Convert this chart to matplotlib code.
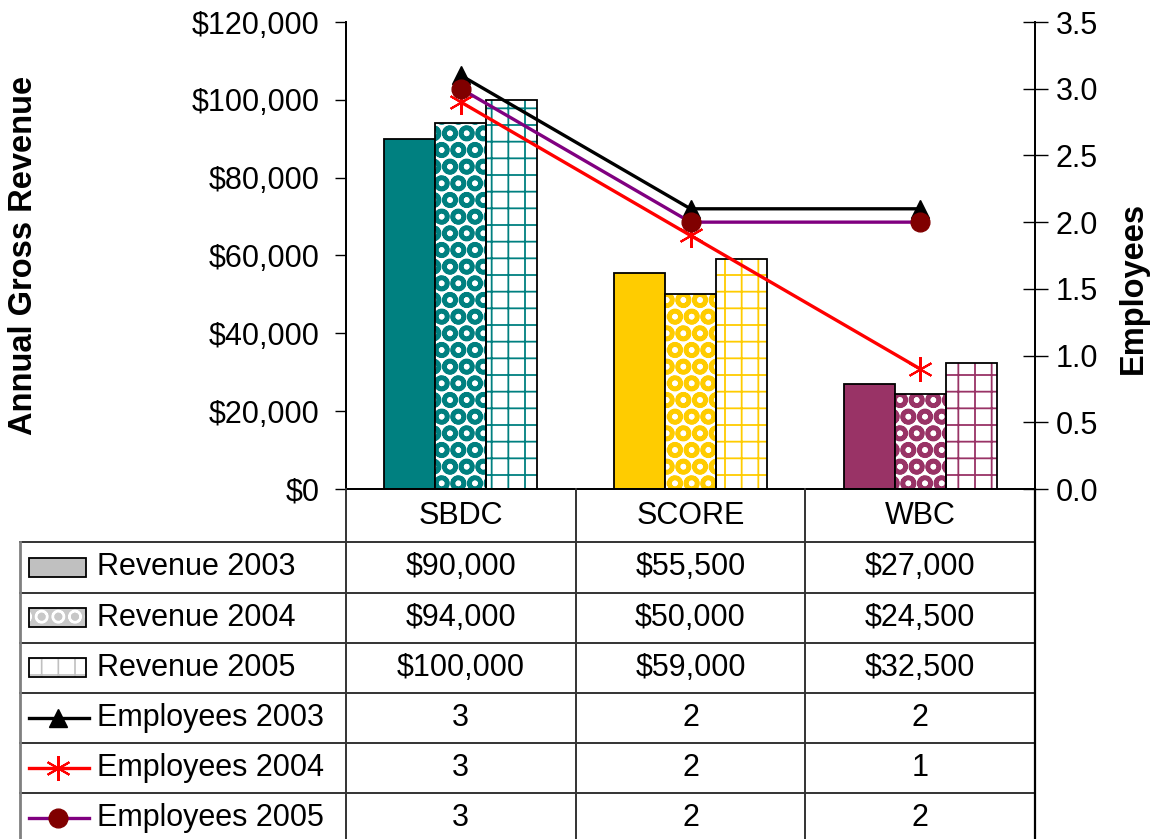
import matplotlib
matplotlib.use('Agg')
import matplotlib.pyplot as plt
from matplotlib.patches import Rectangle
from matplotlib.ticker import FuncFormatter, FormatStrFormatter

plt.rcParams['font.family'] = ['Liberation Sans', 'DejaVu Sans']

# data
categories = ['SBDC', 'SCORE', 'WBC']
revenue_2003 = [90000, 55500, 27000]
revenue_2004 = [94000, 50000, 24500]
revenue_2005 = [100000, 59000, 32500]
employees_2003 = [3.1, 2.1, 2.1]
employees_2004 = [2.9, 1.9, 0.9]
employees_2005 = [3.0, 2.0, 2.0]

rev_labels = ['Revenue 2003', 'Revenue 2004', 'Revenue 2005']
emp_labels = ['Employees 2003', 'Employees 2004', 'Employees 2005']

cat_colors = ['#008080', '#FFCC00', '#993366']
hatches = [None, 'O', '+']
emp_styles = [
    dict(color='black', marker='^', mfc='black', mec='black', ms=13, mew=1),
    dict(color='#FF0000', marker=(6, 2, 0), mfc='#FF0000', mec='#FF0000', ms=18, mew=1.5),
    dict(color='#800080', marker='o', mfc='#800000', mec='#800000', ms=13.5, mew=1),
]

W, H = 1159, 839
FS = 22


def fx(px):
    return px / W


def fy(py):
    return 1 - py / H


fig = plt.figure(figsize=(W / 100, H / 100), dpi=100)
ax = fig.add_axes([fx(346), fy(489), fx(1035) - fx(346), fy(22) - fy(489)])
ax.set_xlim(-0.5, 2.5)
ax.set_ylim(0, 120000)
ax2 = ax.twinx()
ax2.set_ylim(0, 3.5)

x = list(range(len(categories)))
bar_w = 0.222

# bars, coloured by category, patterned by year
for j, (vals, hatch) in enumerate(zip([revenue_2003, revenue_2004, revenue_2005], hatches)):
    off = (j - 1) * bar_w
    hlw = 3.2 if hatch == 'O' else 1.3
    with plt.rc_context({'hatch.linewidth': hlw}):
        for i, v in enumerate(vals):
            if hatch is None:
                ax.bar(x[i] + off, v, bar_w, color=cat_colors[i], edgecolor='black', lw=1.3, zorder=2)
            else:
                ax.bar(x[i] + off, v, bar_w, color='white', edgecolor=cat_colors[i], hatch=hatch, lw=0, zorder=2)
                ax.bar(x[i] + off, v, bar_w, color='none', edgecolor='black', lw=1.3, zorder=3)

# employee lines
for vals, st in zip([employees_2003, employees_2004, employees_2005], emp_styles):
    ax2.plot(x, vals, lw=2.4, **st)

# axes styling
ax.spines['top'].set_visible(False)
ax2.spines['top'].set_visible(False)
for s in ['left', 'right', 'bottom']:
    ax.spines[s].set_linewidth(1.3)
    ax2.spines[s].set_linewidth(1.3)
ax.set_xticks([])
ax.set_yticks(range(0, 120001, 20000))
ax.yaxis.set_major_formatter(FuncFormatter(lambda v, p: '${:,.0f}'.format(v)))
ax.tick_params(axis='y', direction='out', length=8, width=1, pad=11, labelsize=FS)
ax2.set_yticks([i * 0.5 for i in range(8)])
ax2.yaxis.set_major_formatter(FormatStrFormatter('%.1f'))
ax2.tick_params(axis='y', direction='inout', length=18, width=1, pad=6, labelsize=FS)

fig.text(fx(24), fy(255), 'Annual Gross Revenue', rotation=90, fontsize=23.5, fontweight='bold',
         ha='center', va='center')
fig.text(fx(1133), fy(288), 'Employees', rotation=90, fontsize=23.5, fontweight='bold',
         ha='center', va='center')

# data table below the plot
cat_px = (1035 - 346) / 3
tax = fig.add_axes([fx(20), 0, fx(1035) - fx(20), fy(489)])
xmin = -0.5 - (346 - 20) / cat_px
tax.set_xlim(xmin, 2.5)
tax.set_ylim(839, 489)
tax.axis('off')


def xd(px):
    return xmin + (px - 20) / cat_px


line_kw = dict(color='#333333', lw=1.4, clip_on=False)
header_bot = 542.3
row_h = 50.2
n_rows = len(rev_labels) + len(emp_labels)
edges = [header_bot + k * row_h for k in range(n_rows + 1)]
for e in edges[:-1]:
    tax.plot([xmin, 2.5], [e, e], **line_kw)
for xv in [-0.5, 0.5, 1.5]:
    tax.plot([xv, xv], [489, 839], **line_kw)
tax.plot([2.5, 2.5], [489, 839], color='black', lw=1.6, clip_on=False)
tax.plot([xmin, xmin], [header_bot, 839], color='#808080', lw=2, clip_on=False)

for i, c in enumerate(categories):
    tax.text(x[i], (489 + header_bot) / 2, c, ha='center', va='center', fontsize=FS)

rows = [revenue_2003, revenue_2004, revenue_2005, employees_2003, employees_2004, employees_2005]
labels = rev_labels + emp_labels
for k, (vals, lab) in enumerate(zip(rows, labels)):
    yc = edges[k] + row_h / 2
    for i, v in enumerate(vals):
        txt = '${:,.0f}'.format(v) if k < 3 else '{:d}'.format(int(round(v)))
        tax.text(x[i], yc, txt, ha='center', va='center', fontsize=FS)
    tax.text(xd(97), yc, lab, ha='left', va='center', fontsize=FS)
    if k < 3:
        hatch = hatches[k]
        box = ((xd(29), yc - 9.5), xd(86) - xd(29), 19)
        if hatch is None:
            tax.add_patch(Rectangle(*box, facecolor='#C0C0C0', edgecolor='black', lw=1.3, clip_on=False))
        else:
            face, hcol, hlw = ('#C8C8C8', 'white', 1.6) if hatch == 'O' else ('white', '#C0C0C0', 1.2)
            with plt.rc_context({'hatch.linewidth': hlw}):
                tax.add_patch(Rectangle(*box, facecolor=face, edgecolor=hcol, hatch=hatch, lw=0,
                                        clip_on=False))
            tax.add_patch(Rectangle(*box, facecolor='none', edgecolor='black', lw=1.3, clip_on=False))
    else:
        st = emp_styles[k - 3]
        tax.plot([xd(29), xd(89)], [yc, yc], color=st['color'], lw=2.4, clip_on=False)
        tax.plot([xd(58)], [yc], linestyle='none', clip_on=False,
                 **{kk: vv for kk, vv in st.items() if kk != 'color'})

fig.savefig('out.png', dpi=100)
